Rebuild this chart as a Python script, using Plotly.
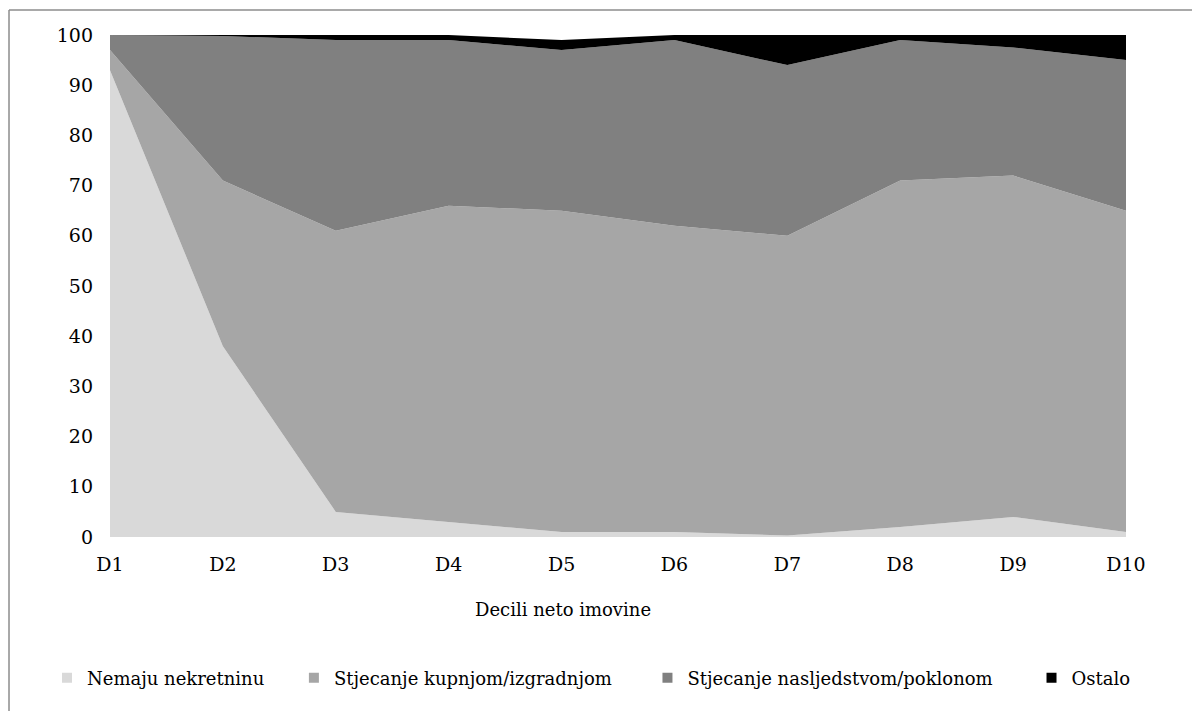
import plotly.graph_objects as go

decili = ['D1', 'D2', 'D3', 'D4', 'D5', 'D6', 'D7', 'D8', 'D9', 'D10']

nemaju = [93, 38, 5, 3, 1, 1, 0.3, 2, 4, 1]
kupnjom = [4, 33, 56, 63, 64, 61, 59.7, 69, 68, 64]
nasljedstvom = [3, 28.8, 38, 33, 32, 37, 34, 28, 25.5, 30]
ostalo = [0, 0.2, 1, 1, 2, 1, 6, 1, 2.5, 5]

series = [
    ('Nemaju nekretninu', nemaju, '#d9d9d9'),
    ('Stjecanje kupnjom/izgradnjom', kupnjom, '#a6a6a6'),
    ('Stjecanje nasljedstvom/poklonom', nasljedstvom, '#808080'),
    ('Ostalo', ostalo, '#000000'),
]

FONT = 'DejaVu Serif'

fig = go.Figure()

# stacked areas
for name, vals, col in series:
    fig.add_trace(go.Scatter(
        x=decili, y=vals, name=name,
        mode='lines', stackgroup='one',
        line=dict(width=0, color=col),
        fillcolor=col,
        showlegend=False
    ))

# legend entries (small squares), each in its own legend so they can be placed
legend_x = [-0.062, 0.181, 0.529, 0.907]
for i, (name, vals, col) in enumerate(series):
    lg = 'legend' if i == 0 else 'legend%d' % (i + 1)
    fig.add_trace(go.Scatter(
        x=[None], y=[None], name=name, mode='markers',
        marker=dict(symbol='square', size=10, color=col),
        legend=lg
    ))

legend_style = dict(
    orientation='h', yanchor='middle', xanchor='left', y=-0.281,
    font=dict(family=FONT, size=18, color='#000000'),
    bgcolor='rgba(0,0,0,0)', itemwidth=30
)
fig.update_layout(
    legend=dict(x=legend_x[0], **legend_style),
    legend2=dict(x=legend_x[1], **legend_style),
    legend3=dict(x=legend_x[2], **legend_style),
    legend4=dict(x=legend_x[3], **legend_style),
)

# x-axis title placed like the original
fig.add_annotation(
    text='Decili neto imovine', xref='paper', yref='paper',
    x=0.4459, y=-0.1693, showarrow=False,
    font=dict(family=FONT, size=18, color='#000000')
)

# outer chart frame (top and left edges visible)
fig.add_shape(type='line', xref='paper', yref='paper',
              x0=-0.0994, x1=1.2, y0=1.0498, y1=1.0498,
              line=dict(color='#8c8c8c', width=1.5))
fig.add_shape(type='line', xref='paper', yref='paper',
              x0=-0.0994, x1=-0.0994, y0=1.0498, y1=-0.5,
              line=dict(color='#8c8c8c', width=1.5))

fig.update_layout(
    width=1200, height=711,
    margin=dict(l=102, r=82, t=27, b=182),
    paper_bgcolor='white', plot_bgcolor='white',
    font=dict(family=FONT, size=19, color='#000000'),
    xaxis=dict(
        range=[0, 9], showgrid=False, zeroline=False, showline=False,
        ticks='', ticklabelstandoff=14, tickfont=dict(family=FONT, size=19)
    ),
    yaxis=dict(
        range=[0, 100], dtick=10, showgrid=False, zeroline=False,
        showline=False, ticks='', ticklabelstandoff=16,
        tickfont=dict(family=FONT, size=19)
    ),
)

fig.write_html('out.html')
